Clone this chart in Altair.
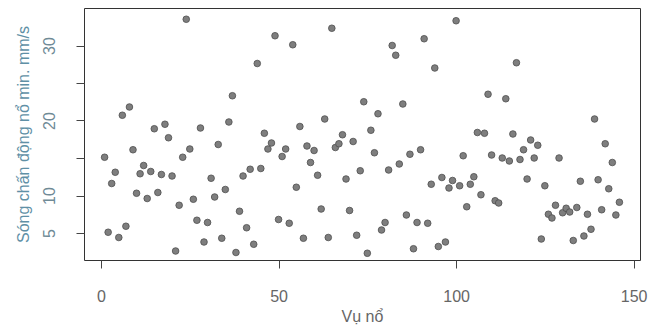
import altair as alt
import pandas as pd

blast_no = list(range(1, 147))
vibration = [
    15.1, 5.1, 11.6, 13.1, 4.4, 20.7, 5.9, 21.8, 16.1, 10.3,
    12.9, 14.0, 9.6, 13.2, 18.9, 10.4, 12.8, 19.5, 17.7, 12.6,
    2.6, 8.7, 15.1, 33.5, 16.2, 9.5, 6.7, 19.0, 3.8, 6.4,
    12.3, 9.8, 16.8, 4.3, 10.8, 19.8, 23.3, 2.4, 7.9, 12.6,
    5.7, 13.5, 3.5, 27.6, 13.6, 18.3, 16.2, 17.0, 31.3, 6.8,
    15.2, 16.2, 6.3, 30.1, 11.1, 19.2, 4.3, 16.6, 14.4, 16.0,
    12.7, 8.2, 20.2, 4.4, 32.3, 16.4, 16.9, 18.1, 12.2, 8.0,
    17.2, 4.7, 13.3, 22.5, 2.3, 18.7, 15.7, 20.9, 5.4, 6.4,
    13.4, 30.0, 28.7, 14.2, 22.2, 7.4, 15.5, 2.9, 6.4, 16.1,
    30.9, 6.3, 11.5, 27.0, 3.2, 12.4, 3.8, 11.0, 12.0, 33.3,
    11.3, 15.3, 8.5, 11.5, 12.5, 18.4, 10.1, 18.3, 23.5, 15.4,
    9.3, 9.0, 15.0, 22.9, 14.6, 18.2, 27.7, 14.8, 16.1, 12.2,
    17.4, 15.0, 16.7, 4.2, 11.3, 7.5, 7.0, 8.7, 15.0, 7.7,
    8.3, 7.8, 4.0, 8.4, 11.9, 4.6, 7.5, 5.5, 20.2, 12.1,
    8.1, 16.9, 10.9, 14.4, 7.4, 9.1,
]
x_ticks = [0, 50, 100, 150]
y_ticks = [5, 10, 15, 20, 25, 30]

df = pd.DataFrame({"x": blast_no, "y": vibration})

FONT = "Liberation Sans"

chart = (
    alt.Chart(df)
    .mark_circle(size=44, fill="#7e7e7e", stroke="#4e4e4e", strokeWidth=0.8, opacity=1)
    .encode(
        x=alt.X(
            "x:Q",
            scale=alt.Scale(domain=[-4.8, 151.8], nice=False, zero=False),
            axis=alt.Axis(
                values=x_ticks, title="Vụ nổ", domain=False, grid=False,
                tickSize=8, tickColor="#444", tickWidth=1,
                labelFont=FONT, labelFontSize=16, labelColor="#666",
                labelPadding=20, labelFlush=False,
                titleFont=FONT, titleFontSize=16, titleColor="#666",
                titleFontWeight="normal", titlePadding=4,
            ),
        ),
        y=alt.Y(
            "y:Q",
            scale=alt.Scale(domain=[1.4, 35.0], nice=False, zero=False),
            axis=alt.Axis(
                values=y_ticks, title="Sóng chấn động nổ min. mm/s",
                labelExpr="(datum.value == 15 || datum.value == 25) ? '' : datum.label",
                domain=False, grid=False,
                tickSize=8, tickColor="#444", tickWidth=1,
                labelFont=FONT, labelFontSize=16, labelColor="#6f8a96",
                labelAngle=270, labelAlign="center", labelBaseline="bottom",
                labelPadding=19, labelFlush=False,
                titleFont=FONT, titleFontSize=16, titleColor="#5f90a6",
                titleFontWeight="normal", titlePadding=10,
            ),
        ),
    )
    .properties(
        width=556, height=252,
        autosize=alt.AutoSizeParams(type="none"),
        padding={"left": 76, "top": 0, "right": 20, "bottom": 66},
        background="white",
    )
    .configure_view(stroke="#333", strokeWidth=1)
)

chart.save("out.html", embed_options={"renderer": "svg", "actions": False})
